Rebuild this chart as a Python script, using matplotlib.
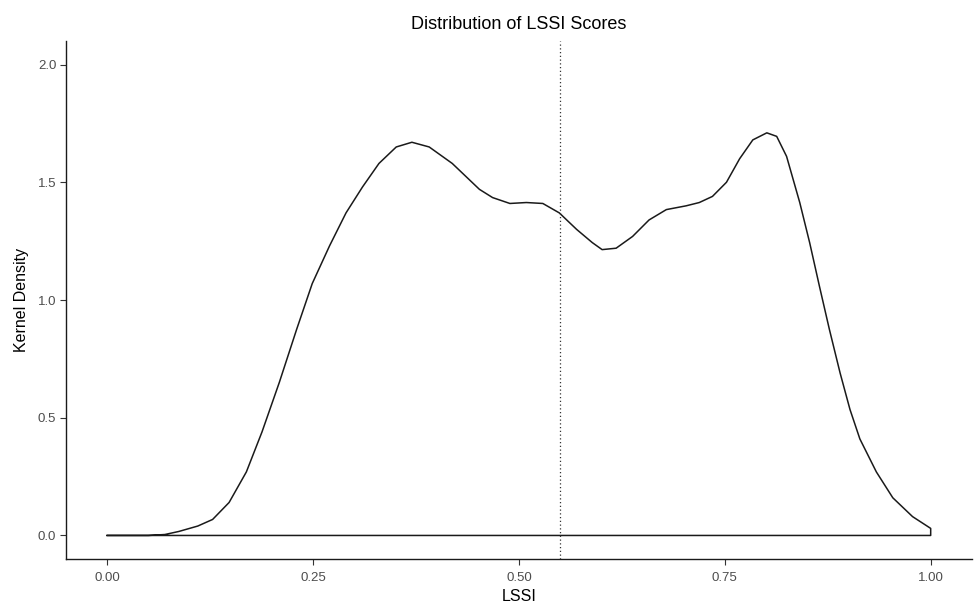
import matplotlib.pyplot as plt

plt.rcParams['font.family'] = ['Liberation Sans', 'DejaVu Sans']

# density estimate
lssi = [0.0, 0.05, 0.07, 0.087, 0.11, 0.128, 0.148, 0.169, 0.188, 0.209, 0.230, 0.249,
        0.270, 0.290, 0.310, 0.330, 0.351, 0.370, 0.391, 0.419, 0.452, 0.468,
        0.489, 0.509, 0.529, 0.549, 0.570, 0.589, 0.601, 0.618, 0.638, 0.658,
        0.679, 0.703, 0.719, 0.735, 0.752, 0.768, 0.784, 0.801, 0.813, 0.825,
        0.841, 0.853, 0.865, 0.877, 0.890, 0.902, 0.914, 0.934, 0.954, 0.978, 1.0]
density = [0.0, 0.0, 0.004, 0.017, 0.04, 0.068, 0.14, 0.27, 0.44, 0.65, 0.875, 1.07,
           1.23, 1.37, 1.48, 1.58, 1.65, 1.67, 1.65, 1.58, 1.47, 1.435,
           1.41, 1.414, 1.41, 1.37, 1.30, 1.244, 1.214, 1.22, 1.27, 1.34,
           1.384, 1.40, 1.414, 1.44, 1.50, 1.60, 1.68, 1.71, 1.695, 1.61,
           1.414, 1.244, 1.057, 0.875, 0.69, 0.535, 0.41, 0.27, 0.16, 0.08, 0.03]
cutoff = 0.55

xticks = [0.0, 0.25, 0.5, 0.75, 1.0]
xtick_labels = ['0.00', '0.25', '0.50', '0.75', '1.00']
yticks = [0.0, 0.5, 1.0, 1.5, 2.0]
ytick_labels = ['0.0', '0.5', '1.0', '1.5', '2.0']

fig = plt.figure(figsize=(9.74, 6.04), dpi=100)
ax = fig.add_axes([0.0678, 0.0745, 0.930, 0.8576])

# closed outline like geom_density
xs = lssi + [lssi[-1], lssi[0]]
ys = density + [0.0, 0.0]
ax.plot(xs, ys, color='#1a1a1a', lw=1.1, solid_joinstyle='round')
ax.axvline(cutoff, color='#333333', lw=0.9, linestyle=(0, (1, 2)))

ax.set_xlim(-0.05, 1.05)
ax.set_ylim(-0.1, 2.1)
ax.set_xticks(xticks)
ax.set_xticklabels(xtick_labels)
ax.set_yticks(yticks)
ax.set_yticklabels(ytick_labels)
ax.tick_params(colors='#333333', labelcolor='#4d4d4d', labelsize=9.5, length=4, width=0.8)
ax.tick_params(axis='x', pad=5)
ax.tick_params(axis='y', pad=3)

for side in ['top', 'right']:
    ax.spines[side].set_visible(False)
for side in ['left', 'bottom']:
    ax.spines[side].set_color('#1a1a1a')
    ax.spines[side].set_linewidth(1.0)

ax.set_xlabel('LSSI', fontsize=11.5, labelpad=4)
ax.set_ylabel('Kernel Density', fontsize=11.5, labelpad=6)
ax.set_title('Distribution of LSSI Scores', fontsize=13, pad=9)

fig.savefig('out.png', dpi=100)
